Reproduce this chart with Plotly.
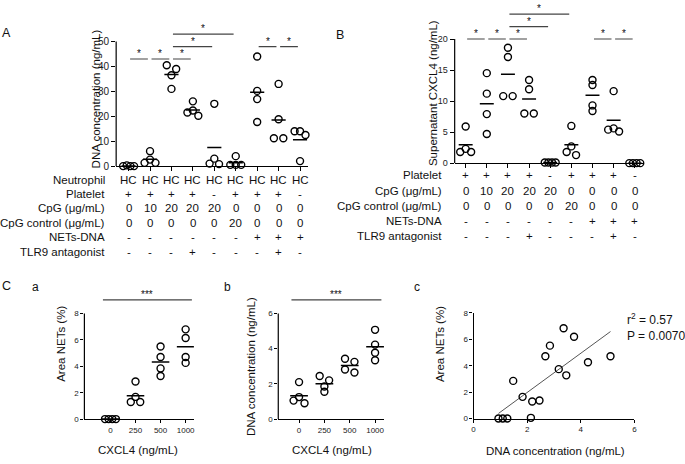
import numpy as np
import plotly.graph_objects as go

W, H = 685, 464
FONT = "Liberation Sans, Arial, Helvetica, sans-serif"

# ---- A: DNA concentration (ng/mL), 9 conditions x 4 donors
dna_a = [
    [0.0, 0.0, 0.0, 0.3],
    [6.0, 2.6, 1.3, 1.3],
    [40.5, 39.0, 36.5, 31.0],
    [26.0, 22.3, 20.2, 21.5],
    [25.0, 3.0, 1.0, 0.8],
    [4.0, 0.5, 0.5, 0.5],
    [44.0, 30.2, 26.9, 17.7],
    [33.0, 18.8, 11.2, 11.2],
    [14.0, 14.0, 12.5, 2.0],
]
# significance brackets (group from, group to, height)
sig_a = [(0, 1, 43), (1, 2, 43), (2, 3, 43), (2, 4, 48), (2, 5, 53), (6, 7, 48), (7, 8, 48)]

# ---- B: supernatant CXCL4 (ng/mL)
cxcl4_b = [
    [5.9, 2.3, 1.8, 1.8],
    [14.5, 11.2, 7.9, 4.7],
    [18.6, 17.1, 10.8, 10.8],
    [13.4, 11.9, 8.0, 8.0],
    [0.1, 0.1, 0.1, 0.1],
    [6.0, 2.7, 1.8, 1.3],
    [13.4, 12.6, 9.3, 8.4],
    [11.6, 5.6, 5.4, 5.1],
    [0.0, 0.0, 0.0, 0.0],
]
sig_b = [(0, 1, 20), (1, 2, 20), (2, 3, 20), (2, 4, 22), (2, 5, 24), (6, 7, 20), (7, 8, 20)]

# ---- condition table (same columns for A and B)
neutrophil = ["HC"] * 9
platelet = ["+", "+", "+", "+", "-", "+", "+", "+", "-"]
cpg = ["0", "10", "20", "20", "20", "0", "0", "0", "0"]
cpg_ctrl = ["0", "0", "0", "0", "0", "20", "0", "0", "0"]
nets_dna = ["-", "-", "-", "-", "-", "-", "+", "+", "+"]
tlr9 = ["-", "-", "-", "+", "-", "-", "-", "+", "-"]

# ---- C
cxcl4_doses = ["0", "250", "500", "1000"]
area_nets_c = [
    [0.0, 0.0, 0.0, 0.0],
    [2.85, 1.68, 1.29, 1.29],
    [5.5, 4.7, 3.84, 3.27],
    [6.8, 6.14, 4.7, 4.26],
]
dna_c = [
    [2.1, 1.25, 0.9, 1.05],
    [2.45, 2.2, 1.85, 1.55],
    [3.43, 3.25, 2.65, 2.82],
    [5.07, 4.23, 3.77, 3.34],
]
corr_dna = [0.93, 1.09, 1.26, 2.14, 1.48, 1.83, 2.19, 2.46, 2.68, 2.85, 3.18, 3.46, 3.36, 3.75, 4.27, 5.11]
corr_area = [0.0, 0.0, 0.0, 0.05, 2.85, 1.64, 1.29, 1.36, 4.71, 5.52, 3.74, 3.27, 6.84, 6.19, 4.26, 4.71]


def px(x):
    return x / W


def py(y):
    return 1 - y / H


def swarm(vals, ppu_y, ppc, gap=4.5, step=9.5, width=11.0):
    """simple symmetric beeswarm offsets (category units)"""
    order = sorted(range(len(vals)), key=lambda i: vals[i])
    offs = [0.0] * len(vals)
    clusters = []
    for i in order:
        if clusters and (vals[i] - vals[clusters[-1][-1]]) * ppu_y < gap:
            clusters[-1].append(i)
        else:
            clusters.append([i])
    for cl in clusters:
        n = len(cl)
        if n == 1:
            continue
        sp = min(step, width / (n - 1))
        slots = sorted([k - (n - 1) / 2 for k in range(n)], key=lambda s: (abs(s), s))
        for idx, s in zip(sorted(cl, key=lambda i: -vals[i]), slots):
            offs[idx] = s * sp / ppc
    return offs


fig = go.Figure()
annotations = []
shapes = []


def ann(text, x, y, xref="paper", yref="paper", size=11.5, **kw):
    d = dict(text=text, x=x, y=y, xref=xref, yref=yref, showarrow=False,
             xanchor="center", yanchor="middle",
             font=dict(size=size, color="#111", family=FONT))
    d.update(kw)
    annotations.append(d)


def dot_panel(groups, xa, ya, ppu_y, ppc, half=0.33):
    xs, ys, mx, my = [], [], [], []
    for i, g in enumerate(groups):
        offs = swarm(g, ppu_y, ppc)
        xs += [i + o for o in offs]
        ys += list(g)
        m = float(np.mean(g))
        mx += [i - half, i + half, None]
        my += [m, m, None]
    fig.add_trace(go.Scatter(x=mx, y=my, mode="lines", xaxis=xa, yaxis=ya,
                             line=dict(color="black", width=1.5), hoverinfo="skip"))
    fig.add_trace(go.Scatter(x=xs, y=ys, mode="markers", xaxis=xa, yaxis=ya, cliponaxis=False,
                             marker=dict(symbol="circle-open", size=7, color="black",
                                         line=dict(width=1.4, color="black"))))


def sig_panel(sigs, xa, ya):
    sx, sy = [], []
    for a, b, h in sigs:
        x0, x1 = a + 0.07, b - 0.1
        sx += [x0, x1, None]
        sy += [h, h, None]
        ann("*", (x0 + x1) / 2, h, xref=xa, yref=ya, size=10, yanchor="bottom", yshift=-2)
    fig.add_trace(go.Scatter(x=sx, y=sy, mode="lines", xaxis=xa, yaxis=ya,
                             line=dict(color="#444", width=1.2), hoverinfo="skip"))


# ---------------- A ----------------
dot_panel(dna_a, "x", "y", 2.54, 21.6)
sig_panel(sig_a, "x", "y")
# ---------------- B ----------------
dot_panel(cxcl4_b, "x2", "y2", 6.33, 21.3)
sig_panel(sig_b, "x2", "y2")
# ---------------- C a / b ----------------
dot_panel(area_nets_c, "x3", "y3", 13.46, 25.3, half=0.35)
dot_panel(dna_c, "x4", "y4", 17.95, 25.5, half=0.35)
for xa, ya, h in [("x3", "y3", 9.03), ("x4", "y4", 6.77)]:
    fig.add_trace(go.Scatter(x=[-0.3, 3.25], y=[h, h], mode="lines", xaxis=xa, yaxis=ya,
                             line=dict(color="#444", width=1.2), hoverinfo="skip"))
    ann("***", 1.475, h, xref=xa, yref=ya, size=10, yanchor="bottom", yshift=-2)

# ---------------- C c ----------------
slope, icpt = np.polyfit(corr_dna, corr_area, 1)
fx = [min(corr_dna), max(corr_dna)]
fig.add_trace(go.Scatter(x=fx, y=[icpt + slope * v for v in fx], mode="lines", xaxis="x5", yaxis="y5",
                         line=dict(color="#555", width=1), hoverinfo="skip"))
fig.add_trace(go.Scatter(x=corr_dna, y=corr_area, mode="markers", xaxis="x5", yaxis="y5", cliponaxis=False,
                         marker=dict(symbol="circle-open", size=7, color="black",
                                     line=dict(width=1.4, color="black"))))

# ---------------- axes ----------------
AX = dict(showgrid=False, zeroline=False, linecolor="black", linewidth=1.2, ticks="outside",
          ticklen=4, tickwidth=1.1, tickcolor="black", fixedrange=True,
          tickfont=dict(size=10, color="#222", family=FONT))
SMALL = dict(size=8, color="#222", family=FONT)


def xax(l, r, rng, anchor, **kw):
    d = dict(AX, domain=[px(l), px(r)], range=rng, anchor=anchor, showline=True)
    d.update(kw)
    return d


def yax(bottom, top, rng, anchor, yname, line_to=None, xleft=None, **kw):
    d = dict(AX, domain=[py(bottom), py(top)], range=rng, anchor=anchor, showline=line_to is None)
    d.update(kw)
    if line_to is not None:
        # axis line stops at the last tick, brackets sit above it
        shapes.append(dict(type="line", xref="paper", yref=yname,
                           x0=px(xleft), x1=px(xleft), y0=0, y1=line_to,
                           line=dict(color="black", width=1.2)))
    return d


fig.update_layout(
    xaxis=xax(115, 308, [-0.58, 8.36], "y", tickvals=list(range(9)), showticklabels=False),
    yaxis=yax(165.3, 20.3, [0, 57.1], "x", "y", line_to=50, xleft=115, tickvals=[0, 10, 20, 30, 40, 50]),
    xaxis2=xax(456, 647, [-0.52, 8.45], "y2", tickvals=list(range(9)), showticklabels=False),
    yaxis2=yax(162.3, 1.0, [0, 25.48], "x2", "y2", line_to=20, xleft=456, tickvals=[0, 5, 10, 15, 20],
               tickfont=dict(size=9, color="#222", family=FONT)),
    xaxis3=xax(83, 193.3, [-1.04, 3.33], "y3", tickvals=[0, 1, 2, 3], ticktext=cxcl4_doses, ticklen=3,
               tickfont=SMALL),
    yaxis3=yax(423.3, 296, [0, 9.46], "x3", "y3", line_to=8, xleft=83, tickvals=[0, 2, 4, 6, 8], ticklen=3,
               tickfont=SMALL),
    xaxis4=xax(278.3, 385, [-0.82, 3.36], "y4", tickvals=[0, 1, 2, 3], ticktext=cxcl4_doses, ticklen=3,
               tickfont=SMALL),
    yaxis4=yax(423.3, 296, [0, 7.09], "x4", "y4", line_to=6, xleft=278.3, tickvals=[0, 2, 4, 6], ticklen=3,
               tickfont=SMALL),
    xaxis5=xax(475, 637, [0, 6], "y5", tickvals=[0, 2, 4, 6], ticklen=3, tickfont=SMALL),
    yaxis5=yax(422.7, 315, [0, 8], "x5", "y5", tickvals=[0, 2, 4, 6, 8], ticklen=3, tickfont=SMALL),
)

# ---------------- tables ----------------
rows_a = [("Neutrophil", neutrophil, 179), ("Platelet", platelet, 193.5), ("CpG (μg/mL)", cpg, 208.5),
          ("CpG control (μg/mL)", cpg_ctrl, 223), ("NETs-DNA", nets_dna, 238), ("TLR9 antagonist", tlr9, 253)]
for label, vals, y in rows_a:
    ann(label, px(106), py(y), xanchor="right")
    for i, v in enumerate(vals):
        ann(v, i, py(y), xref="x")

rows_b = [("Platelet", platelet, 174.5), ("CpG (μg/mL)", cpg, 191), ("CpG control (μg/mL)", cpg_ctrl, 206),
          ("NETs-DNA", nets_dna, 221), ("TLR9 antagonist", tlr9, 236.5)]
for label, vals, y in rows_b:
    ann(label, px(445), py(y), xanchor="right")
    for i, v in enumerate(vals):
        ann(v, i, py(y), xref="x2")

# ---------------- titles and labels ----------------
ann("DNA concentration (ng/mL)", px(95), py(97), textangle=-90)
ann("Supernatant CXCL4 (ng/mL)", px(434), py(91), textangle=-90)
ann("Area NETs (%)", px(60), py(347), textangle=-90)
ann("DNA concentration (ng/mL)", px(251), py(370), textangle=-90)
ann("Area NETs (%)", px(441), py(347), textangle=-90)
ann("CXCL4 (ng/mL)", px(137.5), py(455))
ann("CXCL4 (ng/mL)", px(332), py(455))
ann("DNA concentration (ng/mL)", px(558), py(456))
ann("r<sup>2</sup> = 0.57<br>P = 0.0070", px(628), py(311), xanchor="left", yanchor="top", align="left", size=12)

ann("A", px(5), py(30), size=12.5)
ann("B", px(340), py(32), size=12.5)
ann("C", px(5), py(288), size=12.5)
ann("a", px(34), py(289), size=12)
ann("b", px(227), py(289), size=12)
ann("c", px(418), py(289), size=12)

fig.update_layout(
    width=W, height=H, margin=dict(l=0, r=0, t=0, b=0),
    paper_bgcolor="white", plot_bgcolor="white", showlegend=False,
    font=dict(family=FONT, color="#111"),
    annotations=annotations, shapes=shapes,
)
# the page's default 8px body margin would shift the whole figure
fig.write_html("out.html", config={"displayModeBar": False},
               post_script="document.body.style.margin='0';")
